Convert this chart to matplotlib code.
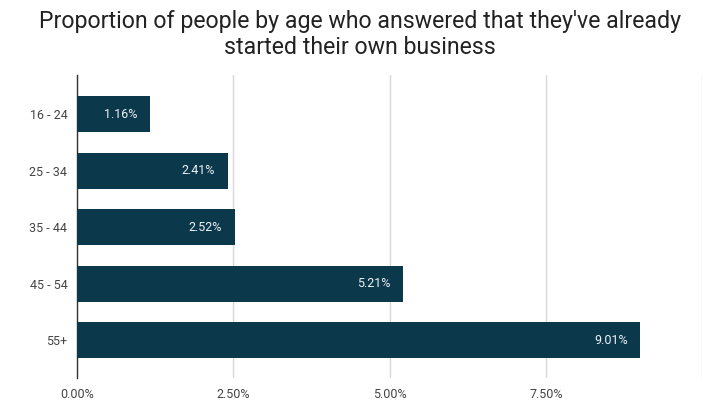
import matplotlib
matplotlib.use("Agg")
import matplotlib.pyplot as plt
from matplotlib.ticker import FixedLocator

age_groups = ["16 - 24", "25 - 34", "35 - 44", "45 - 54", "55+"]
shares = [1.16, 2.41, 2.52, 5.21, 9.01]
tick_values = [0, 2.5, 5.0, 7.5]
tick_labels = ["0.00%", "2.50%", "5.00%", "7.50%"]

plt.rcParams["font.family"] = ["Roboto", "DejaVu Sans"]

fig = plt.figure(figsize=(7.2, 4.15), dpi=100)
ax = fig.add_axes([0.107, 0.089, 0.868, 0.730])

bar_color = "#0c384c"
y = range(len(age_groups))
bars = ax.barh(y, shares, height=0.64, color=bar_color, zorder=3)

for rect, value in zip(bars, shares):
    ax.annotate(f"{value:.2f}%", xy=(rect.get_width(), rect.get_y() + rect.get_height() / 2),
                xytext=(-9, 0), textcoords="offset points", ha="right", va="center",
                color="#eef3f6", fontsize=9, zorder=4)

ax.set_xlim(0, 10)
ax.set_ylim(4.67, -0.69)
ax.set_yticks(list(y))
ax.set_yticklabels(age_groups)
ax.set_xticks(tick_values)
ax.set_xticklabels(tick_labels)
ax.xaxis.set_minor_locator(FixedLocator([10]))
ax.grid(axis="x", which="both", color="#d9d9d9", linewidth=1, zorder=0)
ax.tick_params(axis="both", length=0, labelsize=9, colors="#444444")
ax.tick_params(axis="x", pad=7, which="both", length=0)
ax.tick_params(axis="y", pad=7)
for side in ["top", "right", "bottom"]:
    ax.spines[side].set_visible(False)
ax.spines["left"].set_color("#333333")
ax.spines["left"].set_linewidth(1)

fig.suptitle("Proportion of people by age who answered that they've already\nstarted their own business",
             fontsize=16.7, color="#222222", y=0.975, linespacing=1.15)

fig.savefig("out.png", dpi=100)
